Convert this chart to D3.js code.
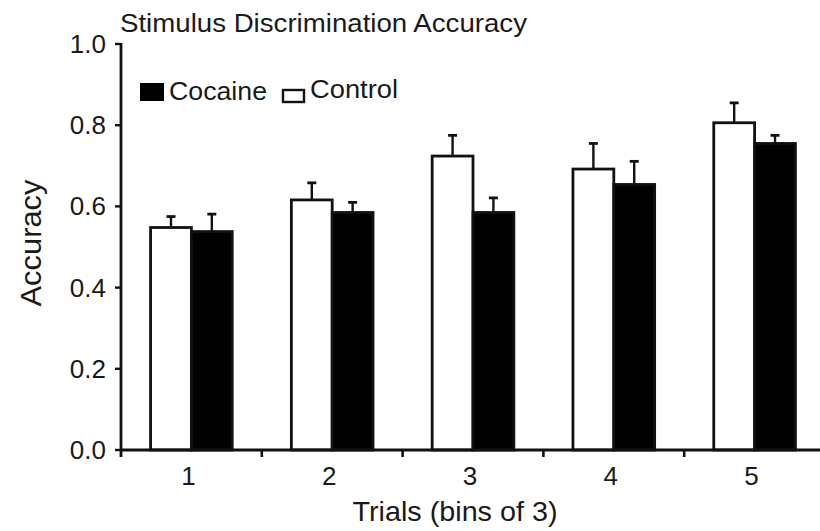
<!DOCTYPE html>
<html>
<head>
<meta charset="utf-8">
<script src="https://cdn.jsdelivr.net/npm/d3@7/dist/d3.min.js"></script>
<style>
  html, body { margin: 0; padding: 0; background: #fff; }
  svg { display: block; font-family: "Liberation Sans", Arial, sans-serif; }
</style>
</head>
<body>
<svg id="chart" width="820" height="531"></svg>
<script>
// Trial bins and mean accuracy per group, with upward SEM bars
const bins = ["1", "2", "3", "4", "5"];
const groups = ["Control", "Cocaine"];
const controlMean = [0.548, 0.616, 0.724, 0.692, 0.806];
const controlErr  = [0.027, 0.042, 0.051, 0.063, 0.049];
const cocaineMean = [0.538, 0.585, 0.585, 0.654, 0.755];
const cocaineErr  = [0.043, 0.025, 0.036, 0.057, 0.020];
const yTicks = [0, 0.2, 0.4, 0.6, 0.8, 1.0];

const rows = bins.map((b, i) => ({
  bin: b,
  values: [
    { group: "Control", mean: controlMean[i], err: controlErr[i] },
    { group: "Cocaine", mean: cocaineMean[i], err: cocaineErr[i] }
  ]
}));

const svg = d3.select("#chart");
const plotLeft = 121, plotRight = 825, plotTop = 44, plotBottom = 450;

const x = d3.scaleBand().domain(bins).range([plotLeft, plotRight])
  .paddingInner(0.42).paddingOuter(0.21);
const xg = d3.scaleBand().domain(groups).range([0, x.bandwidth()]);
const y = d3.scaleLinear().domain([0, 1]).range([plotBottom, plotTop]);
const fill = d3.scaleOrdinal().domain(groups).range(["#fff", "#000"]);

// bars
const g = svg.append("g");
const grp = g.selectAll("g.bin").data(rows).join("g")
  .attr("class", "bin")
  .attr("transform", d => `translate(${x(d.bin)},0)`);

// error bars (upward only)
grp.selectAll("g.err").data(d => d.values).join("g").attr("class", "err")
  .each(function(d) {
    const cx = xg(d.group) + xg.bandwidth() / 2;
    const s = d3.select(this);
    s.append("line").attr("x1", cx).attr("x2", cx)
      .attr("y1", y(d.mean)).attr("y2", y(d.mean + d.err))
      .attr("stroke", "#111").attr("stroke-width", 2.4);
    s.append("line").attr("x1", cx - 4.5).attr("x2", cx + 4.5)
      .attr("y1", y(d.mean + d.err)).attr("y2", y(d.mean + d.err))
      .attr("stroke", "#111").attr("stroke-width", 2.8);
  });

grp.selectAll("rect").data(d => d.values).join("rect")
  .attr("x", d => xg(d.group))
  .attr("width", xg.bandwidth())
  .attr("y", d => y(d.mean))
  .attr("height", d => y(0) - y(d.mean))
  .attr("fill", d => fill(d.group))
  .attr("stroke", "#111")
  .attr("stroke-width", 2.8);

// y axis
const yAxis = svg.append("g");
yAxis.append("line").attr("x1", plotLeft).attr("x2", plotLeft)
  .attr("y1", y(1) - 1).attr("y2", plotBottom + 7)
  .attr("stroke", "#111").attr("stroke-width", 2.8);
yAxis.selectAll("line.tick").data(yTicks).join("line").attr("class", "tick")
  .attr("x1", plotLeft - 6).attr("x2", plotLeft)
  .attr("y1", d => y(d)).attr("y2", d => y(d))
  .attr("stroke", "#111").attr("stroke-width", 2.4);
yAxis.selectAll("text").data(yTicks).join("text")
  .attr("x", plotLeft - 15).attr("y", d => y(d) + 9)
  .attr("text-anchor", "end")
  .attr("font-size", 26).attr("fill", "#1a1a1a")
  .text(d => d.toFixed(1));

// x axis
const xAxis = svg.append("g");
xAxis.append("line").attr("x1", plotLeft).attr("x2", 820)
  .attr("y1", plotBottom).attr("y2", plotBottom)
  .attr("stroke", "#111").attr("stroke-width", 2.8);
xAxis.selectAll("line.tick").data(d3.range(1, bins.length)).join("line").attr("class", "tick")
  .attr("x1", i => plotLeft + i * x.step()).attr("x2", i => plotLeft + i * x.step())
  .attr("y1", plotBottom).attr("y2", plotBottom + 7)
  .attr("stroke", "#111").attr("stroke-width", 2.6);
xAxis.selectAll("text").data(bins).join("text")
  .attr("x", d => x(d) + x.bandwidth() / 2 - 3).attr("y", 485)
  .attr("text-anchor", "middle")
  .attr("font-size", 26).attr("fill", "#1a1a1a")
  .text(d => d);

// axis titles
svg.append("text").attr("x", 455).attr("y", 521)
  .attr("text-anchor", "middle").attr("font-size", 28).attr("fill", "#1a1a1a")
  .attr("textLength", 205).attr("lengthAdjust", "spacingAndGlyphs")
  .text("Trials (bins of 3)");
svg.append("text")
  .attr("transform", "translate(41,243) rotate(-90)")
  .attr("text-anchor", "middle").attr("font-size", 29).attr("fill", "#1a1a1a")
  .attr("textLength", 127).attr("lengthAdjust", "spacingAndGlyphs")
  .text("Accuracy");

// chart title
svg.append("text").attr("x", 120).attr("y", 32)
  .attr("font-size", 25).attr("fill", "#1a1a1a")
  .attr("textLength", 407).attr("lengthAdjust", "spacingAndGlyphs")
  .text("Stimulus Discrimination Accuracy");

// legend
const legend = svg.append("g");
legend.append("rect").attr("x", 140).attr("y", 83).attr("width", 24).attr("height", 18)
  .attr("fill", fill("Cocaine"));
legend.append("text").attr("x", 169).attr("y", 100)
  .attr("font-size", 25).attr("fill", "#1a1a1a")
  .attr("textLength", 98).attr("lengthAdjust", "spacingAndGlyphs")
  .text("Cocaine");
legend.append("rect").attr("x", 283).attr("y", 90).attr("width", 21).attr("height", 12)
  .attr("fill", fill("Control")).attr("stroke", "#111").attr("stroke-width", 2.4);
legend.append("text").attr("x", 310).attr("y", 98)
  .attr("font-size", 25).attr("fill", "#1a1a1a")
  .attr("textLength", 88).attr("lengthAdjust", "spacingAndGlyphs")
  .text("Control");
</script>
</body>
</html>
